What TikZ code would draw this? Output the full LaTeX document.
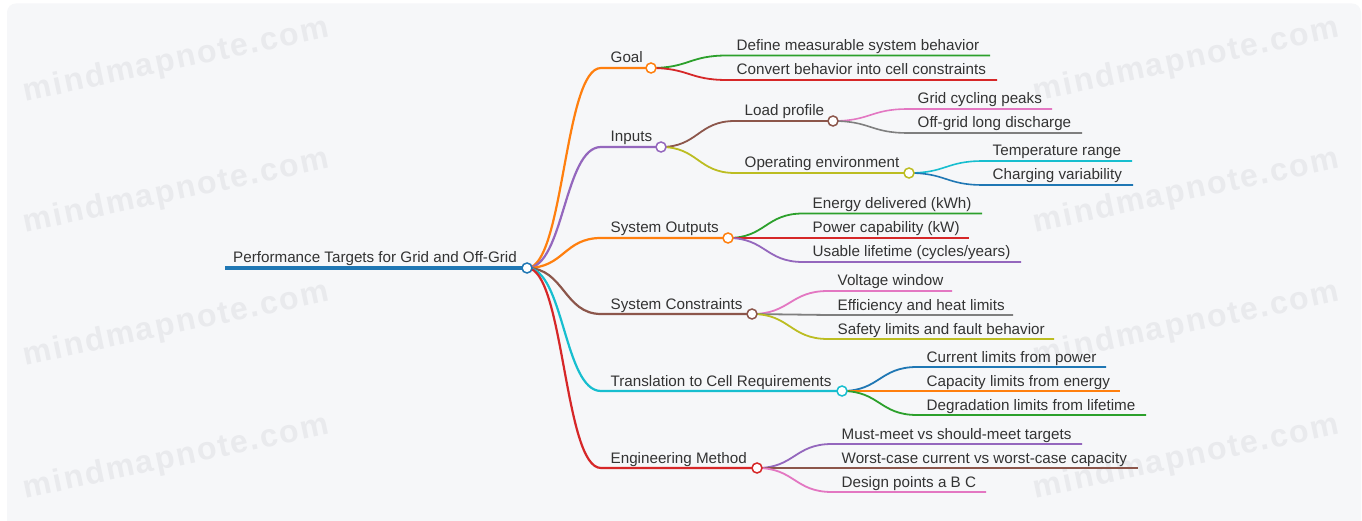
\documentclass[tikz,border=0pt]{standalone}
\usepackage{fontspec}
\setmainfont{Liberation Sans}
\newfontfamily\wmfont[LetterSpace=6]{Liberation Sans}
\usetikzlibrary{calc}

% category palette
\definecolor{cblue}{HTML}{1F77B4}
\definecolor{corange}{HTML}{FF7F0E}
\definecolor{cgreen}{HTML}{2CA02C}
\definecolor{cred}{HTML}{D62728}
\definecolor{cpurple}{HTML}{9467BD}
\definecolor{cbrown}{HTML}{8C564B}
\definecolor{cpink}{HTML}{E377C2}
\definecolor{cgray}{HTML}{7F7F7F}
\definecolor{colive}{HTML}{BCBD22}
\definecolor{ccyan}{HTML}{17BECF}
\definecolor{txt}{HTML}{333333}
\definecolor{canvasbg}{HTML}{F6F7F9}
\definecolor{wmcol}{HTML}{E9EAED}

\pgfdeclarelayer{paper}
\pgfdeclarelayer{links}
\pgfsetlayers{paper,links,main}

\tikzset{
  lbl/.style={inner sep=0pt, anchor=base west, text=txt,
    font=\fontsize{15.2}{18}\selectfont},
  dot/.style={circle, fill=white, line width=1.5pt, minimum size=10pt, inner sep=0pt},
  wm/.style={anchor=base, text=wmcol, rotate=12,
    font=\wmfont\bfseries\fontsize{32}{36}\selectfont},
}

% leaf: name, colour, width, parent, start x, line y, end x, label
\newcommand\mmleaf[8]{%
  \node[lbl] (#1) at ({#5+9.5},{#6-5}) {#8};
  \coordinate (#1-s) at (#5,#6);
  \coordinate (#1-e) at (#7,#6);
  \begin{pgfonlayer}{links}
    \draw[#2, line width=#3] let \p1=(#4.center), \p2=(#1-s) in
      (\p1) .. controls ({0.5*\x1+0.5*\x2},\y1) and ({0.5*\x1+0.5*\x2},\y2) .. (\p2) -- (#1-e);
  \end{pgfonlayer}}

% hub: name, colour, width, parent, start x, line y, hub x, label
\newcommand\mmhub[8]{%
  \node[lbl] (#1-t) at ({#5+9.5},{#6-5}) {#8};
  \node[dot, draw=#2] (#1) at (#7,#6) {};
  \coordinate (#1-s) at (#5,#6);
  \begin{pgfonlayer}{links}
    \draw[#2, line width=#3] let \p1=(#4.center), \p2=(#1-s) in
      (\p1) .. controls ({0.5*\x1+0.5*\x2},\y1) and ({0.5*\x1+0.5*\x2},\y2) .. (\p2) -- (#1.center);
  \end{pgfonlayer}}

\begin{document}
\begin{tikzpicture}[x=1pt, y=-1pt]
\useasboundingbox (0,0) rectangle (1362,521);

% canvas and watermark
\begin{pgfonlayer}{paper}
  \fill[white] (0,0) rectangle (1362,521);
  \fill[canvasbg, rounded corners=9pt] (7,3.5) rectangle (1361,540);
  \node[wm] (wm1) at (178,69) {mindmapnote.com};
  \node[wm] (wm2) at (178,200) {mindmapnote.com};
  \node[wm] (wm3) at (178,333) {mindmapnote.com};
  \node[wm] (wm4) at (178,466) {mindmapnote.com};
  \node[wm] (wm5) at (1188,69) {mindmapnote.com};
  \node[wm] (wm6) at (1188,200) {mindmapnote.com};
  \node[wm] (wm7) at (1188,333) {mindmapnote.com};
  \node[wm] (wm8) at (1188,466) {mindmapnote.com};
\end{pgfonlayer}

% root
\node[lbl] (root-t) at (233,262) {Performance Targets for Grid and Off-Grid};
\node[dot, draw=cblue] (root) at (527,268) {};
\coordinate (root-s) at (225,268);
\begin{pgfonlayer}{links}
  \draw[cblue, line width=3.5pt] (root-s) -- (root.center);
\end{pgfonlayer}

% first level
\mmhub{goal}{corange}{2.2pt}{root}{601}{68}{651}{Goal}
\mmhub{inputs}{cpurple}{2.2pt}{root}{601}{147}{661}{Inputs}
\mmhub{outputs}{corange}{2.2pt}{root}{601}{238}{728}{System Outputs}
\mmhub{constraints}{cbrown}{2.2pt}{root}{601}{314}{752}{System Constraints}
\mmhub{translation}{ccyan}{2.2pt}{root}{601}{391}{842}{Translation to Cell Requirements}
\mmhub{method}{cred}{2.2pt}{root}{601}{468}{757}{Engineering Method}

% goal
\mmleaf{define}{cgreen}{1.8pt}{goal}{727}{55.5}{990}{Define measurable system behavior}
\mmleaf{convert}{cred}{1.8pt}{goal}{727}{80}{997}{Convert behavior into cell constraints}

% inputs
\mmhub{load}{cbrown}{1.8pt}{inputs}{735}{121}{833}{Load profile}
\mmhub{environment}{colive}{1.8pt}{inputs}{735}{173}{909}{Operating environment}
\mmleaf{peaks}{cpink}{1.6pt}{load}{908}{109}{1052}{Grid cycling peaks}
\mmleaf{discharge}{cgray}{1.6pt}{load}{908}{133}{1082}{Off-grid long discharge}
\mmleaf{temperature}{ccyan}{1.6pt}{environment}{983}{161}{1132}{Temperature range}
\mmleaf{charging}{cblue}{1.6pt}{environment}{983}{185}{1133}{Charging variability}

% system outputs
\mmleaf{energy}{cgreen}{1.8pt}{outputs}{803}{213.5}{982}{Energy delivered (kWh)}
\mmleaf{power}{cred}{1.8pt}{outputs}{803}{238}{969}{Power capability (kW)}
\mmleaf{lifetime}{cpurple}{1.8pt}{outputs}{803}{262}{1021}{Usable lifetime (cycles/years)}

% system constraints
\mmleaf{voltage}{cpink}{1.8pt}{constraints}{828}{291}{952}{Voltage window}
\mmleaf{efficiency}{cgray}{1.8pt}{constraints}{828}{315}{1013}{Efficiency and heat limits}
\mmleaf{safety}{colive}{1.8pt}{constraints}{828}{339}{1054}{Safety limits and fault behavior}

% translation to cell requirements
\mmleaf{current}{cblue}{1.8pt}{translation}{917}{367}{1106}{Current limits from power}
\mmleaf{capacity}{corange}{1.8pt}{translation}{917}{391}{1120}{Capacity limits from energy}
\mmleaf{degradation}{cgreen}{1.8pt}{translation}{917}{415}{1146}{Degradation limits from lifetime}

% engineering method
\mmleaf{mustmeet}{cpurple}{1.8pt}{method}{832}{444}{1082}{Must-meet vs should-meet targets}
\mmleaf{worstcase}{cbrown}{1.8pt}{method}{832}{468}{1138}{Worst-case current vs worst-case capacity}
\mmleaf{designpts}{cpink}{1.8pt}{method}{832}{492}{986}{Design points a B C}
\end{tikzpicture}
\end{document}
